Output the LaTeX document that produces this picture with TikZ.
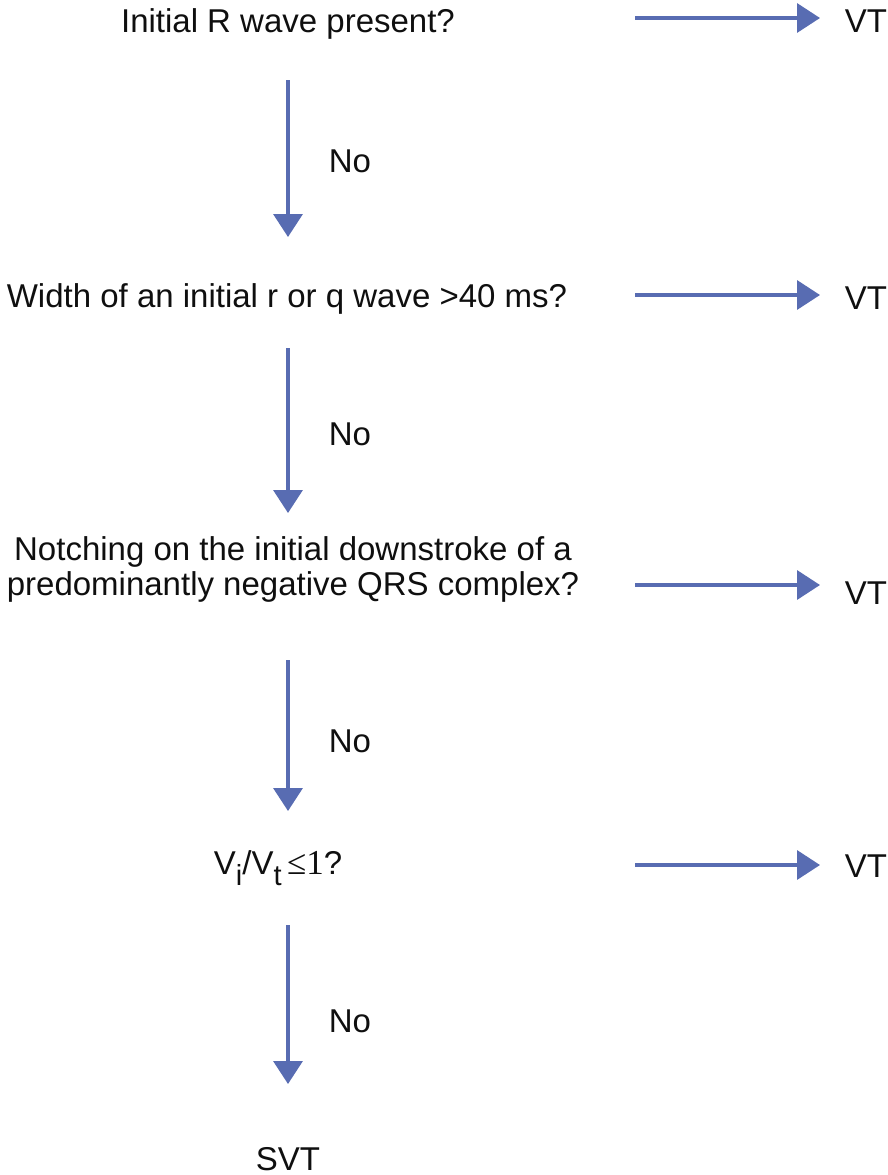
\documentclass[tikz,border=0pt]{standalone}
\usepackage{fontspec}
\setmainfont{Liberation Sans}
\newfontfamily\serifnum{Liberation Serif}
\usetikzlibrary{arrows.meta}
\definecolor{FlowBlue}{RGB}{88, 108, 178}
\definecolor{InkBlack}{RGB}{15, 15, 15}

\begin{document}
\begin{tikzpicture}[x=1pt, y=-1pt,
    txt/.style={anchor=base, inner sep=0pt, text=InkBlack, font=\fontsize{33}{35}\selectfont, align=center},
    flow/.style={draw=FlowBlue, line width=3.5pt, -{Triangle[length=23pt, width=29pt]}}]
    \useasboundingbox (0,0) rectangle (887,1175);
    % Fragen
    \node[txt] (q1) at (288,32) {Initial R wave present?};
    \node[txt] (q2) at (287,307) {Width of an initial r or q wave >40 ms?};
    \node[txt] (q3) at (293,595) {Notching on the initial downstroke of a\\predominantly negative QRS complex?};
    \node[txt] (q4) at (278,874) {V\raisebox{-0.34em}{\fontsize{29}{29}\selectfont i}/V\raisebox{-0.34em}{\fontsize{29}{29}\selectfont t}\,{\serifnum\fontsize{35}{35}\selectfont ≤1}?};
    \node[txt] (svt) at (288,1170) {SVT};
    % Ergebnisse
    \node[txt] (vt1) at (866,32) {VT};
    \node[txt] (vt2) at (866,309) {VT};
    \node[txt] (vt3) at (866,604) {VT};
    \node[txt] (vt4) at (866,877) {VT};
    % No-Labels
    \node[txt] (no1) at (350,172) {No};
    \node[txt] (no2) at (350,445) {No};
    \node[txt] (no3) at (350,752) {No};
    \node[txt] (no4) at (350,1032) {No};
    % Pfeilenden
    \coordinate (d1a) at (288,80);   \coordinate (d1b) at (288,237);
    \coordinate (d2a) at (288,348);  \coordinate (d2b) at (288,513);
    \coordinate (d3a) at (288,660);  \coordinate (d3b) at (288,811);
    \coordinate (d4a) at (288,925);  \coordinate (d4b) at (288,1084);
    \coordinate (r1a) at (635,18);   \coordinate (r1b) at (820,18);
    \coordinate (r2a) at (635,295);  \coordinate (r2b) at (820,295);
    \coordinate (r3a) at (635,585);  \coordinate (r3b) at (820,585);
    \coordinate (r4a) at (635,865);  \coordinate (r4b) at (820,865);
    \foreach \i in {1,...,4} {
        \draw[flow] (d\i a) -- (d\i b);
        \draw[flow] (r\i a) -- (r\i b);
    }
\end{tikzpicture}
\end{document}
